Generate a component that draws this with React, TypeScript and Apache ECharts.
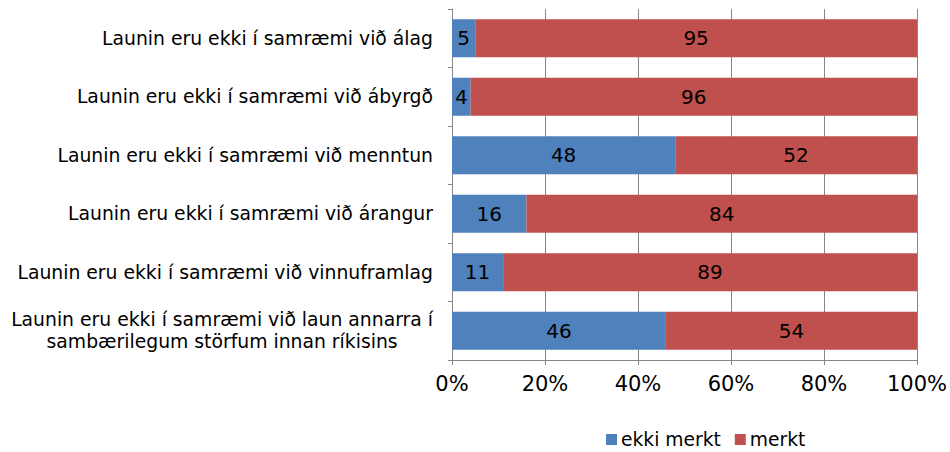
import React, { useEffect, useRef } from "react";
import * as echarts from "echarts";

const categories = [
  "Launin eru ekki í samræmi við laun annarra í\nsambærilegum störfum innan ríkisins",
  "Launin eru ekki í samræmi við vinnuframlag",
  "Launin eru ekki í samræmi við árangur",
  "Launin eru ekki í samræmi við menntun",
  "Launin eru ekki í samræmi við ábyrgð",
  "Launin eru ekki í samræmi við álag",
];
const ekkiMerkt = [46, 11, 16, 48, 4, 5];
const merkt = [54, 89, 84, 52, 96, 95];
const seriesNames = ["ekki merkt", "merkt"];
const xTicks = [0, 20, 40, 60, 80, 100];

const FONT = "DejaVu Sans, Verdana, sans-serif";
const CAT_SIZE = 18.8;

function measure(text: string, size: number): number {
  const c = document.createElement("canvas");
  const ctx = c.getContext("2d");
  if (!ctx) return text.length * size * 0.55;
  ctx.font = `${size}px ${FONT}`;
  return ctx.measureText(text).width;
}

export default function App() {
  const ref = useRef<HTMLDivElement>(null);
  useEffect(() => {
    if (!ref.current) return;
    const chart = echarts.init(ref.current, undefined, { renderer: "svg" });
    const totals = categories.map((_, i) => ekkiMerkt[i] + merkt[i]);
    const pct = (arr: number[]) => arr.map((v, i) => (v / totals[i]) * 100);
    const multi = categories[0].split("\n");
    const padRight = Math.max(0, (measure(multi[0], CAT_SIZE) - measure(multi[1], CAT_SIZE)) / 2);

    const dataLabel = (vals: number[]) => ({
      show: true,
      position: "inside",
      formatter: (p: any) => `${vals[p.dataIndex]}`,
      color: "#000",
      fontSize: 20,
      fontFamily: FONT,
    });

    chart.setOption({
      animation: false,
      textStyle: { fontFamily: FONT },
      grid: { left: 452, right: 33, top: 9, bottom: 92, containLabel: false },
      legend: {
        data: seriesNames,
        left: 601,
        top: 425,
        itemWidth: 11,
        itemHeight: 11,
        itemGap: 14,
        icon: "rect",
        textStyle: { fontSize: 18.7, color: "#000", fontFamily: FONT, padding: [0, 0, 0, -1] },
      },
      xAxis: {
        type: "value",
        min: 0,
        max: 100,
        interval: 20,
        axisLine: { show: true, lineStyle: { color: "#868686", width: 1 } },
        axisTick: { show: true, length: 5, lineStyle: { color: "#868686" } },
        splitLine: { show: true, lineStyle: { color: "#868686", width: 1 } },
        axisLabel: {
          formatter: (v: number) => (xTicks.includes(v) ? `${v}%` : ""),
          fontSize: 21,
          color: "#000",
          margin: 13,
          fontFamily: FONT,
        },
      },
      yAxis: {
        type: "category",
        data: categories,
        axisLine: { show: true, lineStyle: { color: "#868686", width: 1 } },
        axisTick: { show: true, length: 4, lineStyle: { color: "#868686" } },
        axisLabel: {
          color: "#000",
          fontSize: CAT_SIZE,
          fontFamily: FONT,
          margin: 19,
          lineHeight: 22,
          formatter: (v: string) => {
            const lines = v.split("\n");
            if (lines.length < 2) return v;
            return `${lines[0]}\n{b|${lines[1]}}`;
          },
          rich: {
            b: {
              fontSize: CAT_SIZE,
              fontFamily: FONT,
              color: "#000",
              lineHeight: 22,
              padding: [0, padRight, 0, 0],
            },
          },
        },
      },
      series: [
        {
          name: seriesNames[0],
          type: "bar",
          stack: "total",
          barWidth: 38,
          data: pct(ekkiMerkt),
          itemStyle: { color: "#4F81BD" },
          label: dataLabel(ekkiMerkt),
        },
        {
          name: seriesNames[1],
          type: "bar",
          stack: "total",
          barWidth: 38,
          data: pct(merkt),
          itemStyle: { color: "#C0504D" },
          label: dataLabel(merkt),
        },
      ],
    });
    return () => chart.dispose();
  }, []);
  return <div ref={ref} style={{ width: 950, height: 452, position: "absolute", left: 0, top: 0 }} />;
}
